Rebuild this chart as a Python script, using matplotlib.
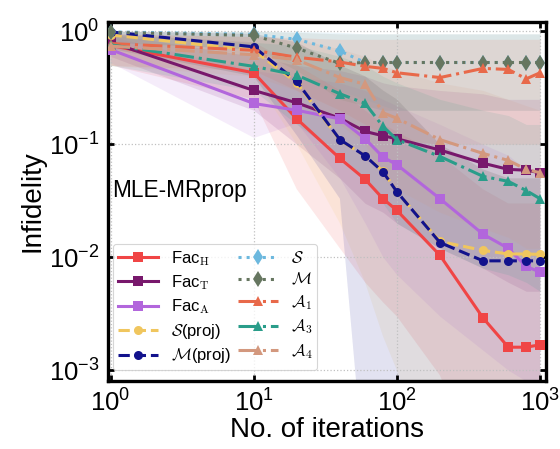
import numpy as np
import matplotlib
matplotlib.use('Agg')
import matplotlib.pyplot as plt

plt.rcParams['font.family'] = ['Liberation Sans', 'DejaVu Sans']
plt.rcParams['mathtext.fontset'] = 'cm'

# iterations
iters = [1, 10, 20, 40, 60, 80, 100, 200, 400, 600, 800, 1000]

# mean infidelity per method
fac_h = [0.75, 0.43, 0.168, 0.075, 0.049, 0.033, 0.026, 0.0104, 0.0029, 0.0016, 0.0016, 0.00168]
fac_t = [0.80, 0.30, 0.233, 0.17, 0.13, 0.119, 0.112, 0.089, 0.068, 0.060, 0.059, 0.056]
fac_a = [0.69, 0.23, 0.20, 0.168, 0.112, 0.077, 0.066, 0.033, 0.016, 0.012, 0.0083, 0.0074]
s_proj = [0.93, 0.68, 0.35, 0.109, 0.079, 0.058, 0.038, 0.0138, 0.0115, 0.0107, 0.0107, 0.0106]
m_proj = [0.99, 0.73, 0.36, 0.11, 0.079, 0.057, 0.038, 0.0135, 0.0093, 0.0093, 0.0093, 0.0093]
s_raw = [0.99, 0.94, 0.85, 0.67, 0.53, 0.53, 0.53, 0.53, 0.53, 0.53, 0.53, 0.53]
m_raw = [0.98, 0.92, 0.71, 0.52, 0.53, 0.53, 0.53, 0.53, 0.53, 0.53, 0.53, 0.53]
a1 = [0.78, 0.68, 0.59, 0.535, 0.49, 0.47, 0.43, 0.39, 0.47, 0.46, 0.38, 0.43]
a3 = [0.76, 0.49, 0.41, 0.28, 0.23, 0.144, 0.11, 0.078, 0.052, 0.047, 0.039, 0.033]
a4 = [0.74, 0.62, 0.56, 0.39, 0.34, 0.19, 0.17, 0.11, 0.083, 0.072, 0.060, 0.056]

# spread bands (lower, upper)
fac_h_lo = [0.5, 0.25, 0.04, 0.012, 0.006, 0.004, 0.003, 0.0009, 1e-4, 1e-4, 1e-4, 1e-4]
fac_h_hi = [0.95, 0.8, 0.5, 0.3, 0.2, 0.15, 0.13, 0.08, 0.04, 0.03, 0.03, 0.03]
fac_t_lo = [0.6, 0.2, 0.1, 0.05, 0.03, 0.025, 0.02, 0.012, 0.008, 0.006, 0.005, 0.005]
fac_t_hi = [0.95, 0.6, 0.5, 0.45, 0.4, 0.35, 0.33, 0.3, 0.28, 0.25, 0.25, 0.25]
fac_a_lo = [0.53, 0.115, 0.155, 0.05, 0.02, 0.01, 0.007, 0.003, 0.0015, 0.001, 0.0008, 0.0006]
fac_a_hi = [0.9, 0.45, 0.4, 0.35, 0.3, 0.25, 0.22, 0.15, 0.1, 0.08, 0.06, 0.06]
s_proj_lo = [0.7, 0.4, 0.1, 0.02, 0.006, 0.002, 0.001, 1e-4, 1e-4, 1e-4, 1e-4, 1e-4]
s_proj_hi = [1.0, 0.95, 0.8, 0.5, 0.4, 0.3, 0.25, 0.1, 0.06, 0.05, 0.05, 0.05]
m_proj_lo = [0.7, 0.4, 0.12, 0.033, 1e-4, 1e-4, 1e-4, 1e-4, 1e-4, 1e-4, 1e-4, 1e-4]
m_proj_hi = [1.0, 0.95, 0.8, 0.5, 0.4, 0.3, 0.25, 0.1, 0.06, 0.05, 0.05, 0.05]
s_raw_lo = [0.8, 0.7, 0.5, 0.3, 0.25, 0.22, 0.2, 0.2, 0.2, 0.2, 0.2, 0.2]
s_raw_hi = [1.0, 1.0, 1.0, 0.98, 0.95, 0.95, 0.95, 0.95, 0.95, 0.95, 0.95, 0.95]
m_raw_lo = [0.8, 0.7, 0.45, 0.25, 0.22, 0.2, 0.2, 0.2, 0.2, 0.2, 0.2, 0.2]
m_raw_hi = [1.0, 1.0, 0.98, 0.95, 0.95, 0.95, 0.95, 0.95, 0.95, 0.95, 0.95, 0.95]
a1_lo = [0.5, 0.45, 0.3, 0.2, 0.15, 0.12, 0.11, 0.1, 0.1, 0.1, 0.1, 0.1]
a1_hi = [0.95, 0.9, 0.88, 0.85, 0.85, 0.85, 0.85, 0.85, 0.85, 0.85, 0.85, 0.85]
a3_lo = [0.5, 0.3, 0.15, 0.08, 0.05, 0.03, 0.02, 0.012, 0.008, 0.007, 0.006, 0.005]
a3_hi = [0.95, 0.8, 0.75, 0.6, 0.5, 0.4, 0.35, 0.25, 0.2, 0.18, 0.15, 0.15]
a4_lo = [0.5, 0.4, 0.3, 0.15, 0.1, 0.05, 0.04, 0.025, 0.018, 0.015, 0.012, 0.012]
a4_hi = [0.95, 0.9, 0.85, 0.7, 0.6, 0.5, 0.45, 0.35, 0.3, 0.25, 0.22, 0.2]

series = [
    ('Fac$_\\mathrm{H}$', fac_h, fac_h_lo, fac_h_hi, '#f04545', '-', 's'),
    ('Fac$_\\mathrm{T}$', fac_t, fac_t_lo, fac_t_hi, '#78186c', '-', 's'),
    ('Fac$_\\mathrm{A}$', fac_a, fac_a_lo, fac_a_hi, '#b266dc', '-', 's'),
    ('$\\mathcal{S}$(proj)', s_proj, s_proj_lo, s_proj_hi, '#f0c65e', '--', 'o'),
    ('$\\mathcal{M}$(proj)', m_proj, m_proj_lo, m_proj_hi, '#12128c', '--', 'o'),
    ('$\\mathcal{S}$', s_raw, s_raw_lo, s_raw_hi, '#6cb8de', ':', 'd'),
    ('$\\mathcal{M}$', m_raw, m_raw_lo, m_raw_hi, '#667660', ':', 'd'),
    ('$\\mathcal{A}_1$', a1, a1_lo, a1_hi, '#e8694a', '-.', '^'),
    ('$\\mathcal{A}_3$', a3, a3_lo, a3_hi, '#2a9d8a', '-.', '^'),
    ('$\\mathcal{A}_4$', a4, a4_lo, a4_hi, '#d3987e', '-.', '^'),
]

fig = plt.figure(figsize=(5.6, 4.49), dpi=100)
ax = fig.add_axes([0.192, 0.151, 0.783, 0.80])

for label, y, lo, hi, c, ls, mk in series:
    ax.fill_between(iters, lo, hi, color=c, alpha=0.12, lw=0, zorder=1)

for label, y, lo, hi, c, ls, mk in series:
    ms = 8 if mk == 'd' else 6.5
    ax.plot(iters, y, color=c, ls=ls, marker=mk, ms=ms, mew=0, lw=2.2,
            label=label, zorder=3)

ax.set_xscale('log')
ax.set_yscale('log')
ax.set_xlim(0.953, 1100)
ax.set_ylim(8e-4, 1.21)
ax.minorticks_off()
ax.set_xticks([1, 10, 100, 1000])
ax.set_yticks([1e-3, 1e-2, 1e-1, 1])
ax.tick_params(direction='in', top=True, right=True, length=4, width=2,
               labelsize=18.5, pad=6)
ax.grid(True, ls=':', color='#c0c0c0', lw=0.9)
for sp in ax.spines.values():
    sp.set_linewidth(2.4)

ax.set_xlabel('No. of iterations', fontsize=20, labelpad=0)
ax.set_ylabel('Infidelity', fontsize=20, labelpad=2)
ax.text(0.01, 0.53, 'MLE-MRprop', transform=ax.transAxes, fontsize=16.3,
        va='center', ha='left')

leg = ax.legend(ncol=2, loc='lower left', bbox_to_anchor=(0.012, 0.03),
                fontsize=12, handlelength=2.4, columnspacing=0.4,
                labelspacing=0.33, handletextpad=0.8, borderaxespad=0,
                borderpad=0.3, framealpha=0.8, edgecolor='#cccccc',
                fancybox=True)
leg.get_frame().set_linewidth(0.8)

fig.savefig('out.png', dpi=100)
